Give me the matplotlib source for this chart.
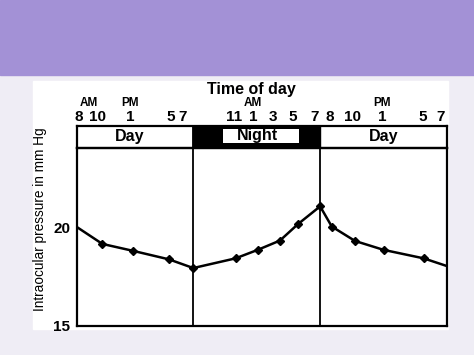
import matplotlib
matplotlib.use('Agg')
import matplotlib.pyplot as plt
from matplotlib.patches import Rectangle
import matplotlib.transforms as mtransforms

plt.rcParams.update({'font.family': ['Liberation Sans', 'DejaVu Sans'], 'font.size': 9})

# hours counted from midnight of day 1 (8 AM day 1 -> 43 = 7 PM day 2)
hours = [8, 10.4, 13.3, 16.7, 19, 23, 25.1, 27.2, 28.9, 31, 32.1, 34.3, 37, 40.8, 43]
iop = [20.0, 19.15, 18.8, 18.37, 17.93, 18.42, 18.85, 19.32, 20.15, 21.05, 20.03, 19.3, 18.85, 18.42, 18.03]

tick_pos = [8.2, 9.9, 13, 16.9, 18.0, 22.9, 24.7, 26.5, 28.4, 30.5, 31.9, 34.1, 36.9, 40.7, 42.4]
tick_lab = ['8', '10', '1', '5', '7', '11', '1', '3', '5', '7', '8', '10', '1', '5', '7']
ampm_pos = [9.1, 13.0, 24.6, 36.9]
ampm_lab = ['AM', 'PM', 'AM', 'PM']
periods = [(8, 19, 'Day'), (19, 31, 'Night'), (31, 43, 'Day')]

fig = plt.figure(figsize=(4.74, 3.55), dpi=100)
fig.patch.set_facecolor('#efedf5')
fig.patches.append(Rectangle((0, 0.789), 1, 0.211, transform=fig.transFigure,
                             color='#a391d6', zorder=-2))
fig.patches.append(Rectangle((0.0696, 0.0732), 0.875, 0.699, transform=fig.transFigure,
                             color='white', zorder=-2))

ax = fig.add_axes([0.1624, 0.0817, 0.7806, 0.5014])
band = fig.add_axes([0.1624, 0.5831, 0.7806, 0.062])
for a in (ax, band):
    a.set_xlim(8, 43)
    a.patch.set_alpha(0)
    for s in a.spines.values():
        s.set_linewidth(1.6)
    for start, end, name in periods[1:]:
        a.axvline(start, color='black', lw=1.3)

# main curve
ax.plot(hours, iop, color='black', lw=1.8, marker='D', ms=3.8,
        markevery=list(range(1, len(hours) - 1)))
ax.set_ylim(15, 24)
ax.set_yticks([15, 20])
ax.set_yticklabels(['15', '20'], fontweight='bold', fontsize=11)
ax.set_xticks([])
ax.tick_params(axis='y', length=0, pad=5)
ax.set_ylabel('Intraocular pressure in mm Hg', fontsize=9.8)
ax.yaxis.set_label_coords(-0.08, 0.6)

# day / night band
band.set_ylim(0, 1)
band.set_yticks([])
band.set_xticks([])
for start, end, name in periods:
    if name == 'Night':
        band.axvspan(start, end, color='black')
        band.add_patch(Rectangle((start + 2.8, 0.23), end - start - 4.8, 0.63,
                                 facecolor='white', edgecolor='none'))
        band.text(25.1, 0.55, name, ha='center', va='center', fontweight='bold', fontsize=11.5)
    else:
        band.text(37 if start > 20 else 13, 0.5, name, ha='center', va='center',
                  fontweight='bold', fontsize=11.5)

trans = mtransforms.blended_transform_factory(band.transData, band.transAxes)
for x, lab in zip(tick_pos, tick_lab):
    band.text(x, 1.41, lab, transform=trans, ha='center', va='center',
              fontweight='bold', fontsize=11, clip_on=False)
for x, lab in zip(ampm_pos, ampm_lab):
    band.text(x, 2.05, lab, transform=trans, ha='center', va='center',
              fontweight='bold', fontsize=8.5, clip_on=False)
band.text(24.5, 2.64, 'Time of day', transform=trans, ha='center', va='center',
          fontweight='bold', fontsize=11.5, clip_on=False)

fig.savefig('out.png', dpi=100)
